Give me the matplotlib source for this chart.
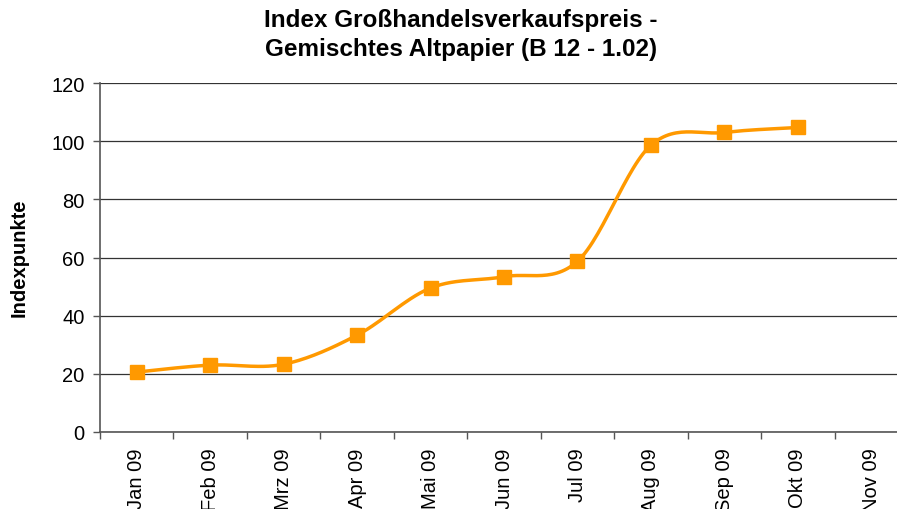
import matplotlib
matplotlib.use("Agg")
import matplotlib.pyplot as plt
import numpy as np

plt.rcParams['font.family'] = ['Liberation Sans', 'DejaVu Sans']

categories = ["Jan 09", "Feb 09", "Mrz 09", "Apr 09", "Mai 09", "Jun 09",
              "Jul 09", "Aug 09", "Sep 09", "Okt 09", "Nov 09"]
values = [20.6, 23.0, 23.3, 33.3, 49.5, 53.4, 58.7, 98.6, 103.0, 104.7]
title = "Index Großhandelsverkaufspreis -\nGemischtes Altpapier (B 12 - 1.02)"
ylabel = "Indexpunkte"
color = "#FF9900"

fig = plt.figure(figsize=(8.97, 5.10), dpi=100)
W, H = 897, 510
ax = fig.add_axes([100 / W, (H - 433) / H, 808 / W, (433 - 84) / H])

x = np.arange(len(values), dtype=float)
y = np.array(values, dtype=float)

# Excel-like smoothing: cubic Bezier with Catmull-Rom control points
xs, ys = [], []
n = len(x)
t = np.linspace(0, 1, 30)
for i in range(n - 1):
    p0 = np.array([x[max(i - 1, 0)], y[max(i - 1, 0)]])
    p1 = np.array([x[i], y[i]])
    p2 = np.array([x[i + 1], y[i + 1]])
    p3 = np.array([x[min(i + 2, n - 1)], y[min(i + 2, n - 1)]])
    c1 = p1 + (p2 - p0) / 6.0
    c2 = p2 - (p3 - p1) / 6.0
    b = ((1 - t) ** 3)[:, None] * p1 + (3 * (1 - t) ** 2 * t)[:, None] * c1 \
        + (3 * (1 - t) * t ** 2)[:, None] * c2 + (t ** 3)[:, None] * p2
    xs.extend(b[:, 0])
    ys.extend(b[:, 1])

ax.plot(xs, ys, color=color, lw=2.5, zorder=3, solid_capstyle='round')
ax.plot(x, y, linestyle='none', marker='s', markersize=10, color=color, zorder=4)

ax.set_xlim(-0.5, len(categories) - 0.5)
ax.set_ylim(0, 120)
ax.set_yticks(np.arange(0, 121, 20))
ax.yaxis.grid(True, color='#333333', lw=0.9)
ax.set_axisbelow(True)

ax.set_xticks(np.arange(len(categories)))
ax.set_xticklabels(categories, rotation=90, fontsize=14.5)
ax.set_xticks(np.arange(len(categories) + 1) - 0.5, minor=True)
ax.tick_params(axis='x', which='major', length=0, pad=11)
ax.tick_params(axis='x', which='minor', length=5, width=1, color='#555555', direction='out')
ax.tick_params(axis='y', length=5, width=1, color='#555555', labelsize=14.5, pad=6)

for s in ['top', 'right']:
    ax.spines[s].set_visible(False)
for s in ['left', 'bottom']:
    ax.spines[s].set_color('#555555')
    ax.spines[s].set_linewidth(1.2)

fig.text(461 / W, 1 - 35 / H, title, ha='center', va='center',
         fontsize=17.5, fontweight='bold', linespacing=1.35)
fig.text(19 / W, 1 - 258 / H, ylabel, rotation=90, ha='center', va='center',
         fontsize=14.5, fontweight='bold')

fig.savefig("out.png", dpi=100)
